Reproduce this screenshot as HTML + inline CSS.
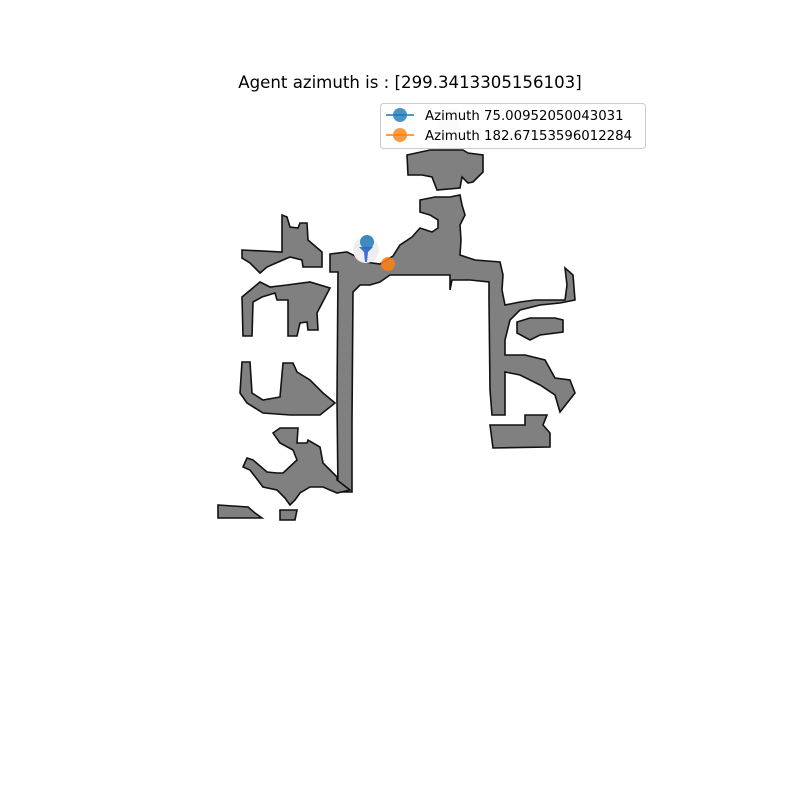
<!DOCTYPE html>
<html><head><meta charset="utf-8"><style>
html,body{margin:0;padding:0;background:#fff;width:800px;height:800px;overflow:hidden}
svg text{font-family:"DejaVu Sans","Liberation Sans",sans-serif}
</style></head><body>
<svg id="chart" width="800" height="800" viewBox="0 0 800 800" xmlns="http://www.w3.org/2000/svg">
<rect width="800" height="800" fill="#fff"/>
<text x="410" y="88" font-size="16.6" text-anchor="middle" fill="#000">Agent azimuth is : [299.3413305156103]</text>
<g id="map"></g>
<g id="agent"></g>
<g>
<rect x="380.5" y="103.5" width="265" height="45" rx="3" fill="#fff" fill-opacity="0.8" stroke="#ccc"/>
<g>
<line x1="386" y1="115" x2="414" y2="115" stroke="#1f77b4" stroke-width="1.5"/>
<circle cx="400" cy="115" r="7" fill="#1f77b4" fill-opacity="0.8"/>
<text x="425" y="120" font-size="13.3">Azimuth 75.00952050043031</text></g>
<g>
<line x1="386" y1="135" x2="414" y2="135" stroke="#ff7f0e" stroke-width="1.5"/>
<circle cx="400" cy="135" r="7" fill="#ff7f0e" fill-opacity="0.8"/>
<text x="425" y="140" font-size="13.3">Azimuth 182.67153596012284</text></g>
</g>
</svg>
<script>
const regionNames=['main-corridor','top-left-room','left-room-2','left-room-3','left-room-4','bottom-left-room','bottom-small-room','top-island','right-bottom-room','right-middle-room'];
const regionPoints=[
"330,254 347,252 355,256 365,262 380,264 393,256 400,245 412,237 420,228 432,232 438,228 438,220 430,215 420,212 420,200 435,197 450,197 460,195 462,205 465,215 460,225 461,240 460,255 475,260 500,262 503,275 502,290 505,305 520,302 535,300 550,300 565,300 567,285 565,268 573,275 575,300 560,303 540,305 520,310 510,320 505,340 505,355 525,355 545,360 555,378 570,380 575,393 560,412 555,395 540,385 520,375 505,372 505,400 505,415 492,415 490,390 489,300 489,282 470,280 452,280 450,290 450,275 390,275 380,282 370,285 360,285 353,292 352,420 352,492 338,492 337,400 338,272 330,272",
"242,250 282,252 282,215 287,217 290,227 298,228 300,223 307,223 308,240 322,252 322,267 303,267 302,260 290,257 283,260 276,263 267,267 260,273 250,263 242,258",
"242,297 260,282 270,287 287,285 310,282 330,288 317,313 318,330 308,330 307,322 300,323 297,336 288,336 288,300 277,300 275,293 262,297 253,302 252,336 243,336",
"242,362 250,362 252,393 263,400 280,397 283,363 293,363 297,372 310,380 323,393 335,403 320,415 290,415 263,413 247,403 240,393",
"273,433 280,428 298,428 297,443 307,443 308,440 320,447 323,463 337,477 337,480 350,490 337,493 323,487 310,487 300,493 295,500 290,505 285,498 277,490 263,487 250,470 243,467 247,458 253,460 267,472 277,473 283,473 297,460 293,450 280,443",
"218,505 248,507 255,513 262,518 218,518",
"280,510 297,510 295,520 280,520",
"407,155 430,150 463,150 468,153 483,155 483,172 473,182 468,183 462,177 460,188 437,190 432,177 422,175 408,175",
"490,425 525,425 525,415 547,415 543,425 550,433 550,447 493,448",
"517,322 530,318 555,318 563,320 563,332 540,335 530,340 517,333"
];
const NS='http://www.w3.org/2000/svg';
const map=document.getElementById('map');
const light=document.createElementNS(NS,'polygon');
light.setAttribute('points','437,150 440,112 450,108 458,110 460,150');
light.setAttribute('fill','#e4e4e4');


map.appendChild(light);
regionPoints.forEach((p,i)=>{
  const el=document.createElementNS(NS,'polygon');
  el.setAttribute('points',p);
  el.setAttribute('fill','#808080');
  el.setAttribute('stroke','#111');
  el.setAttribute('stroke-width','1.6');
  el.setAttribute('stroke-linejoin','miter');
  
  
  map.appendChild(el);
});
const agentX=[366];const agentY=[250];
const markerX=[367,388];const markerY=[242,264];const markerColors=['#1f77b4','#ff7f0e'];
const ag=document.getElementById('agent');
const halo=document.createElementNS(NS,'circle');
halo.setAttribute('cx',agentX[0]);halo.setAttribute('cy',agentY[0]);halo.setAttribute('r','13');
halo.setAttribute('fill','#eeeeee');


ag.appendChild(halo);
const arrow=document.createElementNS(NS,'polygon');
const ax=agentX[0],ay=agentY[0];
arrow.setAttribute('points',`${ax-7},${ay-3} ${ax+7},${ay-3} ${ax+2},${ay+2} ${ax+1},${ay+12} ${ax-1},${ay+12} ${ax-2},${ay+2}`);
arrow.setAttribute('fill','#3f6fd0');


ag.appendChild(arrow);
markerX.forEach((x,i)=>{
  const c=document.createElementNS(NS,'circle');
  c.setAttribute('cx',x);c.setAttribute('cy',markerY[i]);c.setAttribute('r','7');
  c.setAttribute('fill',markerColors[i]);c.setAttribute('fill-opacity','0.85');
  
  
  ag.appendChild(c);
});
</script>
</body></html>
